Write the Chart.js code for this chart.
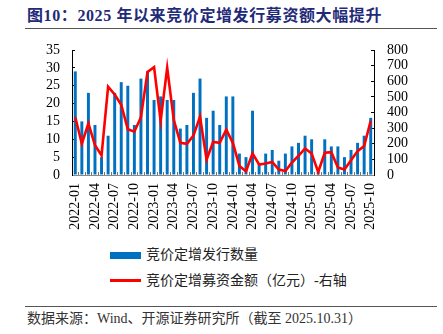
<!DOCTYPE html>
<html><head><meta charset="utf-8">
<script src="https://cdn.jsdelivr.net/npm/chart.js@4"></script>
<style>
html,body{margin:0;padding:0;width:443px;height:334px;background:#fff;overflow:hidden;}
body{position:relative;font-family:"Liberation Serif","Noto Sans CJK SC",serif;}
#title{position:absolute;left:27px;top:7px;font-size:16px;line-height:18px;font-weight:bold;color:#1f2a78;white-space:nowrap;letter-spacing:0.6px;}
.rule{position:absolute;left:25px;width:412px;height:0;border-top:1.4px solid #555;}
#wrap{position:absolute;left:0;top:0;width:443px;height:240px;}
.lt{position:absolute;left:146px;font-size:14px;line-height:14px;color:#222;white-space:nowrap;}
.sw{position:absolute;left:110px;width:31px;}
#src{position:absolute;left:27px;top:311px;font-size:14px;line-height:15px;color:#333;white-space:nowrap;}
</style></head>
<body>
<div id="title">图10：2025 年以来竞价定增发行募资额大幅提升</div>
<div class="rule" style="top:27.5px"></div>
<div id="wrap"><canvas id="c"></canvas></div>
<div class="sw" style="top:252px;height:6.5px;background:#0070C0"></div>
<div class="lt" style="top:248px">竞价定增发行数量</div>
<div class="sw" style="top:279px;height:2.5px;background:#ff0000"></div>
<div class="lt" style="top:273.5px">竞价定增募资金额（亿元）-右轴</div>
<div class="rule" style="top:305.5px"></div>
<div id="src">数据来源：Wind、开源证券研究所（截至 2025.10.31）</div>
<script>
const months = ["2022-01","2022-02","2022-03","2022-04","2022-05","2022-06","2022-07","2022-08","2022-09","2022-10","2022-11","2022-12",
"2023-01","2023-02","2023-03","2023-04","2023-05","2023-06","2023-07","2023-08","2023-09","2023-10","2023-11","2023-12",
"2024-01","2024-02","2024-03","2024-04","2024-05","2024-06","2024-07","2024-08","2024-09","2024-10","2024-11","2024-12",
"2025-01","2025-02","2025-03","2025-04","2025-05","2025-06","2025-07","2025-08","2025-09","2025-10"];
const issueCount = [29,15,23,14,5,11,23,26,25,14,27,29,
21,22,21,21,13,14,23,27,16,18,14,22,
22,6,5,18,3,6,7,4,6,8,9,11,
10,1,10,8,8,5,7,9,11,16];
const raisedAmount = [370,200,330,190,125,565,515,450,293,277,370,660,
690,346,686,353,206,200,252,374,99,211,206,290,
206,58,24,138,67,73,84,35,26,80,123,170,
138,19,142,146,48,35,95,153,185,346];
const leftTicks = [0,5,10,15,20,25,30,35];
const rightTicks = [0,100,200,300,400,500,600,700,800];
const seriesNames = ["竞价定增发行数量","竞价定增募资金额（亿元）-右轴"];

const tickFont = {family:"Liberation Serif", size:14};
new Chart(document.getElementById('c'), {
  data: {
    labels: months,
    datasets: [
      {type:'line', label:seriesNames[1], data:raisedAmount, yAxisID:'y2', borderColor:'#ff0000', borderWidth:2.6, pointRadius:0, tension:0, order:1},
      {type:'bar', label:seriesNames[0], data:issueCount, yAxisID:'y', backgroundColor:'#0070C0', barPercentage:0.5, categoryPercentage:0.9, order:2}
    ]
  },
  options: {
    responsive:true, maintainAspectRatio:false, animation:false,
    layout:{padding:{top:50,left:0,right:0,bottom:0}},
    plugins:{legend:{display:false}, tooltip:{enabled:false}},
    scales:{
      x:{
        offset:true,
        grid:{display:true, offset:true, drawOnChartArea:false, drawTicks:true, tickLength:-3, color:'#777'},
        border:{display:true, color:'#888', width:1},
        ticks:{autoSkip:false, maxRotation:90, minRotation:90, padding:11, color:'#000', font:tickFont,
          callback:function(v,i){return i%3===0 ? months[i] : '';}},
        afterFit:function(s){s.height=65;}
      },
      y:{
        position:'left', min:0, max:35,
        afterBuildTicks:function(s){s.ticks=leftTicks.map(v=>({value:v}));},
        grid:{drawOnChartArea:false, drawTicks:true, tickLength:-3, color:'#000'},
        border:{display:true, color:'#000', width:1},
        ticks:{autoSkip:false, padding:15, color:'#000', font:tickFont},
        afterFit:function(s){s.width=72;}
      },
      y2:{
        position:'right', min:0, max:800,
        afterBuildTicks:function(s){s.ticks=rightTicks.map(v=>({value:v}));},
        grid:{drawOnChartArea:false, drawTicks:true, tickLength:-3, color:'#000'},
        border:{display:true, color:'#000', width:1},
        ticks:{autoSkip:false, padding:16, color:'#000', font:tickFont},
        afterFit:function(s){s.width=69;}
      }
    }
  }
});
</script>
</body></html>
